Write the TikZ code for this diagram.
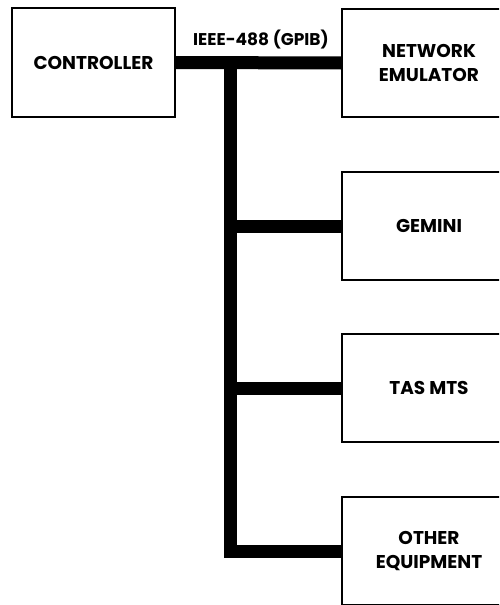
\documentclass[tikz,border=0pt]{standalone}
\usepackage{fontspec}
\setmainfont{Poppins}
\usetikzlibrary{positioning}

\begin{document}
\begin{tikzpicture}[x=1pt,y=-1pt,
      font=\fontsize{18.5}{24}\selectfont\bfseries,
      box/.style={draw,line width=1.6pt,minimum width=174pt,
                  minimum height=108pt,align=center,inner sep=0pt},
      bus/.style={line width=13pt}]
    \useasboundingbox (0,0) rectangle (499,605);
    \clip (0,0) rectangle (499,605);

    % UNITS -- controller on the left, four instruments on the right
    \node[box,minimum width=163pt,minimum height=109pt] (ctrl) at (93.5,62.5) {CONTROLLER};
    \node[box] (emu)    at (429,63)  {NETWORK\\EMULATOR};
    \node[box] (gemini) at (429,226) {GEMINI};
    \node[box] (tas)    at (429,388) {TAS MTS};
    \node[box] (other)  at (429,551) {OTHER\\EQUIPMENT};

    % BUS -- the one thick GPIB line and its taps
    \coordinate (tap) at (230,63);
    \draw[bus] (ctrl.east) -- (emu.west);
    \draw[bus] (tap) |- (other.west);
    \foreach \b in {gemini,tas}
      \draw[bus] (tap |- \b.west) -- (\b.west);
    \node[font=\fontsize{17}{20}\selectfont\bfseries] (buslabel) at (261,40) {IEEE-488 (GPIB)};
  \end{tikzpicture}
\end{document}
